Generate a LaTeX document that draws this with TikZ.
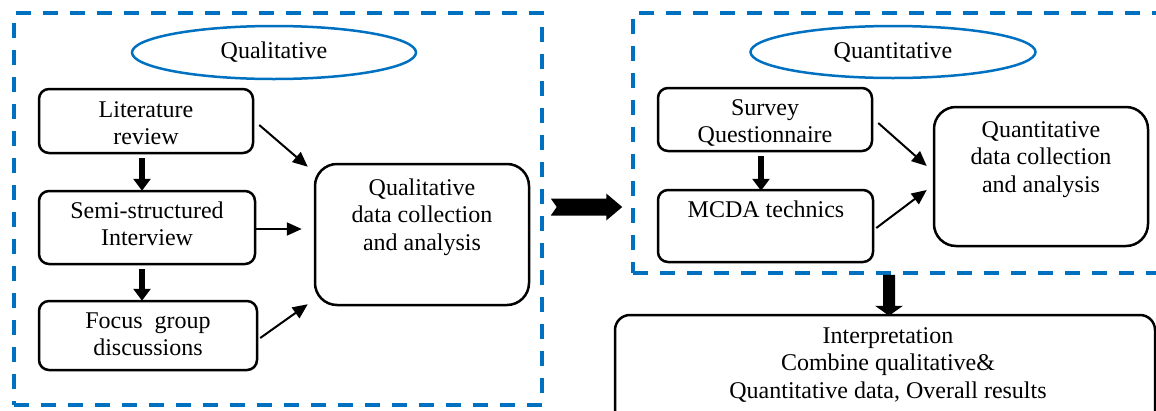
\documentclass[tikz,border=0pt]{standalone}
\usepackage{fontspec}
\setmainfont{Liberation Serif}
\usetikzlibrary{shapes.geometric,arrows.meta,calc}
\definecolor{dashblue}{HTML}{0070C0}
\begin{document}
\begin{tikzpicture}[x=1pt,y=-1pt,
  panel/.style={draw=dashblue,line width=3.5pt,dash pattern=on 15pt off 12pt,rectangle,inner sep=0pt},
  oval/.style={draw=dashblue,line width=2.5pt,ellipse,inner sep=0pt,font=\fontsize{24}{27.5}\selectfont},
  stepbox/.style={draw,line width=2.5pt,rounded corners=10pt,inner sep=0pt},
  bigbox/.style={stepbox,rounded corners=22pt},
  txt/.style={font=\fontsize{24}{27.5}\selectfont,align=center,inner sep=0pt,anchor=north},
  thinarrow/.style={line width=2pt,-{Triangle[length=15pt,width=13pt]}},
  thickarrow/.style={line width=5.5pt,-{Triangle[length=12pt,width=17pt]}},
]
\useasboundingbox (0,0) rectangle (1156,410);
\clip (0,0) rectangle (1156,410);

% dashed panels
\node[panel,minimum width=528pt,minimum height=392pt] (lbox) at (278,209) {};
\node[panel,minimum width=542pt,minimum height=260pt] (rbox) at (904,143) {};

% headings
\node[oval,minimum width=284pt,minimum height=53pt] (qlhead) at (274,52.5) {Qualitative};
\node[oval,minimum width=285pt,minimum height=52pt] (qnhead) at (893,52) {Quantitative};

% qualitative steps
\node[stepbox,minimum width=214pt,minimum height=64pt] (lit) at (146,121) {};
\node[stepbox,minimum width=216pt,minimum height=73pt] (semi) at (147,227.5) {};
\node[stepbox,minimum width=218pt,minimum height=69pt] (focus) at (148,335.5) {};
\node[bigbox,minimum width=214pt,minimum height=141pt] (qual) at (422,234.5) {};

\node[txt] (littxt) at (146,97.75) {\strut Literature\\review};
\node[txt] (semitxt) at (147,198.75) {\strut Semi-structured\\Interview};
\node[txt] (focustxt) at (148,308.75) {\strut Focus~~group\\discussions};
\node[txt] (qualtxt) at (422,175.75) {\strut Qualitative\\data collection\\and analysis};

% quantitative steps
\node[stepbox,minimum width=214pt,minimum height=63pt] (survey) at (765,119.5) {};
\node[stepbox,minimum width=215pt,minimum height=72pt] (mcda) at (765.5,226) {};
\node[bigbox,minimum width=214pt,minimum height=139pt] (quant) at (1041,176.5) {};

\node[txt] (surveytxt) at (765,95.75) {\strut Survey\\Questionnaire};
\node[txt] (mcdatxt) at (766,197.75) {\strut MCDA technics};
\node[txt] (quanttxt) at (1041,117.75) {\strut Quantitative\\data collection\\and analysis};

% interpretation
\node[stepbox,rounded corners=15pt,minimum width=540pt,minimum height=125pt] (interp) at (885,377.5) {};
\node[txt] (interptxt) at (888,323.75) {\strut Interpretation\\Combine qualitative\&\\Quantitative data, Overall results};

% connectors inside the qualitative panel
\draw[thickarrow] ([xshift=-4pt,yshift=-4pt]lit.south) -- ([xshift=-4pt,yshift=-1pt]lit.south |- semi.north);
\draw[thickarrow] ([xshift=-5pt,yshift=-4pt]semi.south) -- ([xshift=-5pt,yshift=-1pt]semi.south |- focus.north);
\draw[thinarrow] ($(lit.east)+(5,4)$) -- ($(qual.north west)+(-6,4)$);
\draw[thinarrow] (semi.east |- 0,229) -- ($(qual.west |- 0,229)+(-12,0)$);
\draw[thinarrow] ($(focus.east)+(2,2.5)$) -- ($(qual.south west)+(-6,-2)$);

% connectors inside the quantitative panel
\draw[thickarrow] ([xshift=-4pt,yshift=-4pt]survey.south) -- ([xshift=-4pt,yshift=-2pt]survey.south |- mcda.north);
\draw[thinarrow] ($(survey.east)+(5,3.5)$) -- ($(quant.west)+(-6,-10.5)$);
\draw[thinarrow] ($(mcda.east)+(2,2)$) -- ($(quant.west)+(-6,13.5)$);

% block arrow between the panels
\coordinate (ba0) at ($(lbox.east)+(7,-2)$);
\coordinate (ba1) at ($(rbox.west |- ba0)+(-9,0)$);
\fill ($(ba0)+(0,-8.5)$) -- ($(ba1)+(-16,-8.5)$) -- ($(ba1)+(-16,-13.5)$) -- (ba1)
  -- ($(ba1)+(-16,13.5)$) -- ($(ba1)+(-16,8.5)$) -- ($(ba0)+(0,8.5)$) -- ($(ba0)+(6,0)$) -- cycle;

% block arrow down to the interpretation
\coordinate (da0) at ($(rbox.south)+(-15,0)$);
\coordinate (da1) at ($(da0 |- interp.north)+(0,2)$);
\fill ($(da0)+(-6,0)$) -- ($(da1)+(-6,-10)$) -- ($(da1)+(-14,-10)$) -- (da1)
  -- ($(da1)+(14,-10)$) -- ($(da1)+(6,-10)$) -- ($(da0)+(6,0)$) -- cycle;
\end{tikzpicture}
\end{document}
